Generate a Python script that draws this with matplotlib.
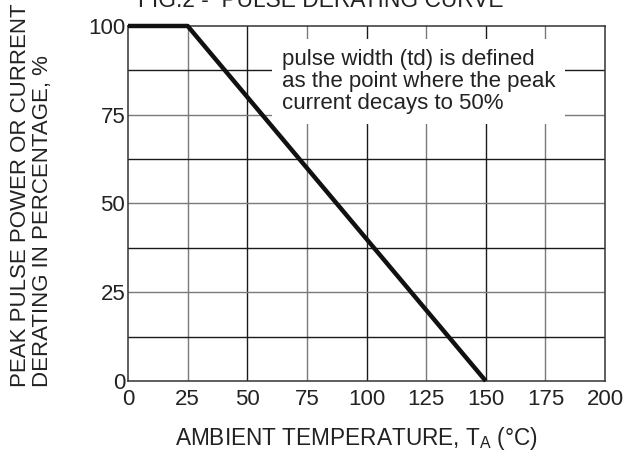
import matplotlib
matplotlib.use('Agg')
import matplotlib.pyplot as plt

# derating curve (temperature in degC, percent of rating)
temp = [0, 25, 150]
derating = [100, 100, 0]

x_ticks = [0, 25, 50, 75, 100, 125, 150, 175, 200]
y_ticks = [0, 25, 50, 75, 100]
x_grid = [25, 50, 75, 100, 125, 150, 175]
y_grid = [12.5, 25, 37.5, 50, 62.5, 75, 87.5]

note = "pulse width (td) is defined\nas the point where the peak\ncurrent decays to 50%"

plt.rcParams['font.family'] = ['Liberation Sans', 'DejaVu Sans']
plt.rcParams['mathtext.default'] = 'regular'

text_color = '#222222'
dark_grid = '#1a1a1a'
light_grid = '#7a7a7a'

fig = plt.figure(figsize=(6.42, 4.55), dpi=100)
ax = fig.add_axes([0.1994, 0.1626, 0.7430, 0.7803])

# grid lines alternate dark / gray like the datasheet scan
for i, gx in enumerate(x_grid):
    ax.axvline(gx, color=light_grid if i % 2 == 0 else dark_grid, lw=1.0, zorder=1)
for i, gy in enumerate(y_grid):
    ax.axhline(gy, color=dark_grid if i % 2 == 0 else light_grid, lw=1.0, zorder=1)

ax.plot(temp, derating, color='#111111', lw=3.2, solid_capstyle='butt',
        clip_on=False, zorder=4)

ax.set_xlim(0, 200)
ax.set_ylim(0, 100)
ax.set_xticks(x_ticks)
ax.set_yticks(y_ticks)
ax.tick_params(length=0, labelsize=16, colors=text_color)
ax.tick_params(axis='x', pad=6)
ax.tick_params(axis='y', pad=2)

for s in ax.spines.values():
    s.set_color('#333333')
    s.set_linewidth(1.1)

ax.text(64.5, 93.5, note, ha='left', va='top', fontsize=16, color=text_color,
        linespacing=1.05, zorder=3,
        bbox=dict(boxstyle='square,pad=0.45', facecolor='white', edgecolor='none'))

fig.text(0.5, 0.9846, "FIG.2 -  PULSE DERATING CURVE", ha='center', va='baseline',
         fontsize=16.4, color=text_color)
fig.text(0.556, 0.022, "AMBIENT TEMPERATURE, T$_A$ (°C)", ha='center', va='baseline',
         fontsize=16.3, color=text_color)
fig.text(0.049, 0.150, "PEAK PULSE POWER OR CURRENT\nDERATING IN PERCENTAGE, %",
         rotation=90, ha='center', va='bottom', multialignment='left',
         fontsize=16, linespacing=1.1, color=text_color)

fig.savefig('out.png', dpi=100, facecolor='white')
